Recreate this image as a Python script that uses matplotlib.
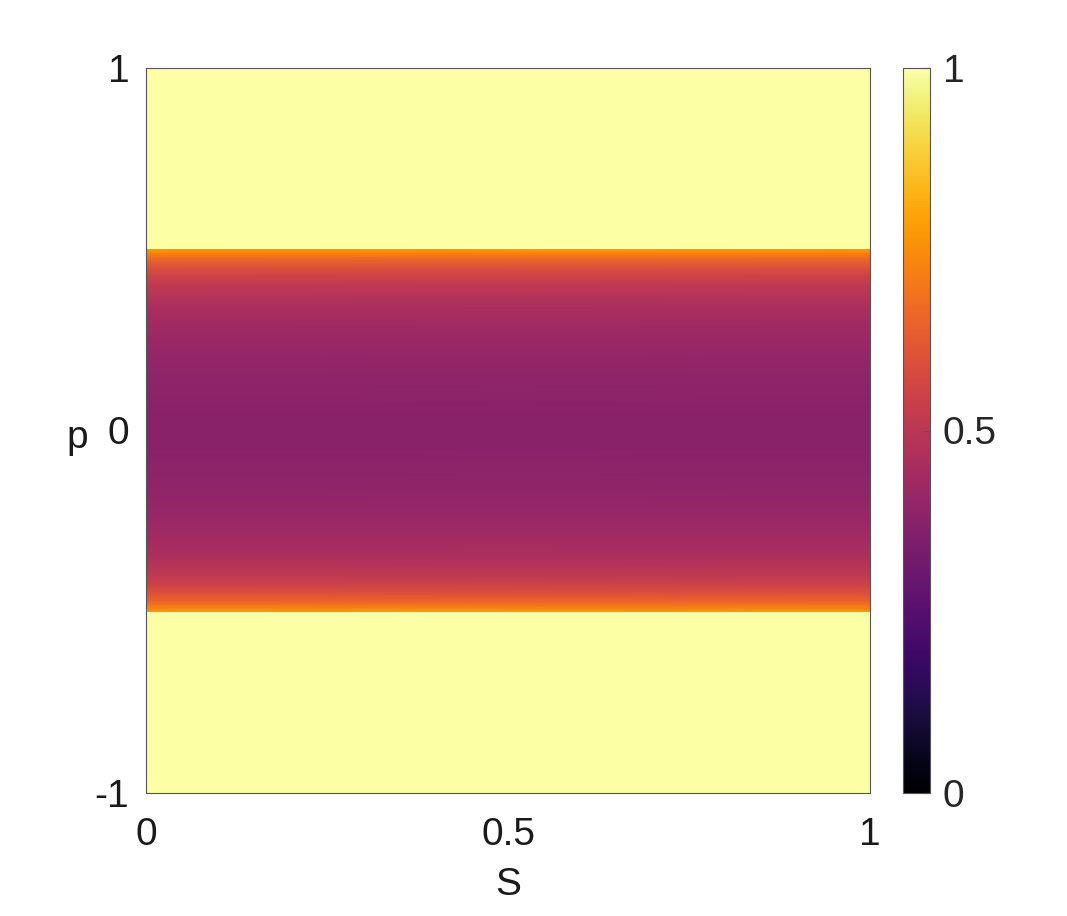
import numpy as np
import matplotlib
matplotlib.use("Agg")
import matplotlib.pyplot as plt

# ---- data ----
s_range = [0.0, 1.0]
# profile of the band (|p| <= 0.5), values at these |p|
p_half = [0.0, 0.05, 0.10, 0.15, 0.20, 0.25, 0.30, 0.35, 0.40, 0.43, 0.45, 0.47, 0.48, 0.49, 0.50]
v_half = [0.375, 0.378, 0.383, 0.39, 0.40, 0.415, 0.435, 0.465, 0.51, 0.555, 0.60, 0.65, 0.69, 0.73, 0.78]
outer_value = 1.0          # value for |p| > 0.5
x_ticks = [0, 0.5, 1]
x_ticklabels = ['0', '0.5', '1']
y_ticks = [-1, 0, 1]
y_ticklabels = ['-1', '0', '1']
cbar_ticks = [0, 0.5, 1]
cbar_ticklabels = ['0', '0.5', '1']

plt.rcParams['font.family'] = ['Liberation Sans', 'DejaVu Sans']
txt_color = '#1a1a1a'
fs = 28

fig = plt.figure(figsize=(10.67, 9.16), dpi=100)
ax = fig.add_axes([146/1067, 1-793/916, 724/1067, 725/916])
cax = fig.add_axes([903/1067, 1-793/916, 27/1067, 725/916])

# band
p_h = np.array(p_half)
v_h = np.array(v_half)
p_band = np.concatenate([-p_h[::-1], p_h[1:]])
v_band = np.concatenate([v_h[::-1], v_h[1:]])
S = np.array(s_range)
Sg, Pg = np.meshgrid(S, p_band)
Vg = np.tile(v_band[:, None], (1, len(S)))
cmap = plt.get_cmap('inferno')
m = ax.pcolormesh(Sg, Pg, Vg, cmap=cmap, vmin=0, vmax=1, shading='gouraud')

# outer regions
for lo, hi in [(0.5, 1.0), (-1.0, -0.5)]:
    ax.pcolormesh(S, [lo, hi], np.full((1, 1), outer_value), cmap=cmap, vmin=0, vmax=1,
                  shading='flat')

ax.set_xlim(0, 1)
ax.set_ylim(-1, 1)
ax.set_xticks(x_ticks)
ax.set_xticklabels(x_ticklabels)
ax.set_yticks(y_ticks)
ax.set_yticklabels(y_ticklabels)
ax.tick_params(axis='both', length=0, labelsize=fs, labelcolor=txt_color)
ax.tick_params(axis='x', pad=17)
ax.tick_params(axis='y', pad=12)
for sp in ax.spines.values():
    sp.set_color('#555555')
    sp.set_linewidth(0.8)

ax.set_xlabel('S', fontsize=fs, color=txt_color)
ax.xaxis.set_label_coords(0.5, -0.127)
ax.xaxis.label.set_va('center')
ax.set_ylabel('p', fontsize=fs, rotation=0, ha='right', va='center', color=txt_color)
ax.yaxis.set_label_coords(-0.08, 0.49)

cb = fig.colorbar(m, cax=cax, ticks=cbar_ticks)
cb.set_ticklabels(cbar_ticklabels)
cb.ax.tick_params(labelsize=fs, direction='in', length=5, color='#555555', pad=9,
                  labelcolor='#262626')
cb.outline.set_edgecolor('#555555')
cb.outline.set_linewidth(0.8)

fig.savefig('out.png', dpi=100)
